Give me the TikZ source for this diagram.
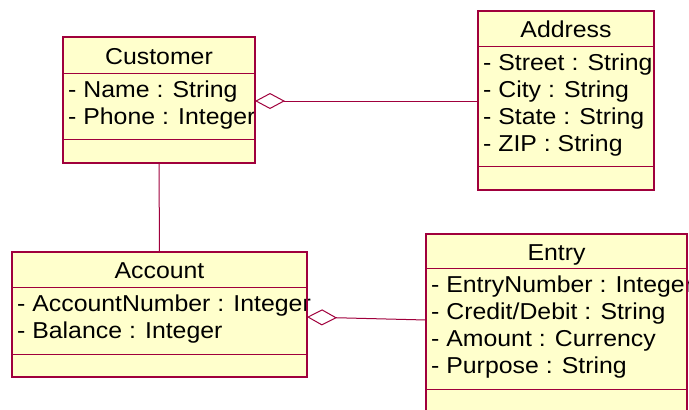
\documentclass[tikz,border=0pt]{standalone}
\usepackage{fontspec}
\setmainfont{Liberation Sans}[FakeStretch=1.08]
\usetikzlibrary{arrows.meta}

\definecolor{umlline}{RGB}{160,0,60}
\definecolor{umlfill}{RGB}{255,255,204}

\newcommand\umlfont{\fontsize{23}{27}\selectfont}
\tikzset{
  classpart/.style={draw=umlline, fill=umlfill, line width=0.8pt, inner sep=0pt, outer sep=0pt},
  classtitle/.style={font=\umlfont, text height=18pt, text depth=0pt},
  classattrs/.style={font=\umlfont, align=left, inner sep=0pt, anchor=north west},
  classedge/.style={draw=umlline, line width=1pt},
  aggregation/.style={classedge, -{Diamond[open, length=30pt, width=16pt]}},
}

% #1 name, #2 left, #3 top, #4 width, #5 #6 #7 part heights, #8 title, #9 attributes
\newcommand\umlclass[9]{
  \node[classpart, classtitle, anchor=north west, minimum width=#4pt, minimum height=#5pt] (#1) at (#2, #3) {#8};
  \node[classpart, anchor=north, minimum width=#4pt, minimum height=#6pt] (#1-attrs) at (#1.south) {};
  \node[classpart, anchor=north, minimum width=#4pt, minimum height=#7pt] (#1-ops) at (#1-attrs.south) {};
  \node[classattrs] (#1-text) at ([xshift=5pt, yshift=-5.6pt]#1-attrs.north west) {#9};
  \draw[umlline, line width=1.2pt] (#1.north west) rectangle (#1-ops.south east);
}

\begin{document}
\begin{tikzpicture}[x=1pt, y=-1pt]
    \useasboundingbox (0, 0) rectangle (689, 410);
    \clip (0, 0) rectangle (689, 410);
    \umlclass{customer}{63}{37}{192}{36}{66}{24}{Customer}
      {\strut- Name : String\\\strut- Phone : Integer}
    \umlclass{address}{478}{11}{176}{35}{120}{24}{Address}
      {\strut- Street : String\\\strut- City : String\\\strut- State : String\\\strut- ZIP : String}
    \umlclass{account}{12}{252}{295}{35}{67}{23}{Account}
      {\strut- AccountNumber : Integer\\\strut- Balance : Integer}
    \umlclass{entry}{426}{234}{261}{34}{121}{30}{Entry}
      {\strut- EntryNumber : Integer\\\strut- Credit/Debit : String\\\strut- Amount : Currency\\\strut- Purpose : String}
    % associations
    \draw[aggregation] ([yshift=5pt]address-attrs.west) -- ([yshift=5pt]customer-attrs.east);
    \draw[classedge] (customer-ops.south) -- (account.north);
    \draw[aggregation] ([yshift=8.5pt]entry-attrs.west) -- ([yshift=3.5pt]account-attrs.east);
\end{tikzpicture}
\end{document}
